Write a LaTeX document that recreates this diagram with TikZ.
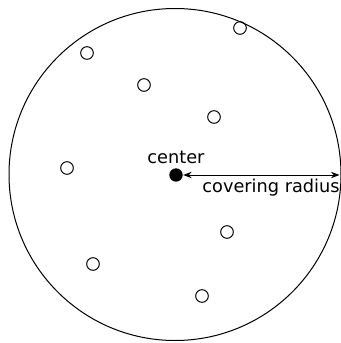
\documentclass[tikz,border=0pt]{standalone}
\usepackage{fontspec}
\setmainfont{DejaVu Sans}
\usetikzlibrary{arrows.meta,positioning}
\tikzset{
  every picture/.style={line width=0.75pt, line join=round, >=Stealth},
  point/.style={circle, draw, inner sep=0pt, minimum size=9.5pt},
  centre dot/.style={circle, fill, inner sep=0pt, minimum size=10pt},
  lbl/.style={font=\fontsize{13.3}{16}\selectfont, inner sep=1pt},
}

\begin{document}
\begin{tikzpicture}[x=0.75pt,y=-0.75pt]
\useasboundingbox (0,0) rectangle (340,343);
\draw (175,174.5) circle (124.5pt);
\node[centre dot] (c) at (176,175) {};
\coordinate (rim) at (339.5,175);
\foreach \px/\py [count=\i] in {240/28, 87/53, 144/85, 214/117, 67/168, 227/232, 93/264, 202/296}
  \node[point] (p\i) at (\px,\py) {};
\node[lbl] (ctext) at (176,157) {center};
\draw[<->] (c) -- (rim);
\node[lbl] (rtext) at (271,188) {covering radius};
\end{tikzpicture}
\end{document}
